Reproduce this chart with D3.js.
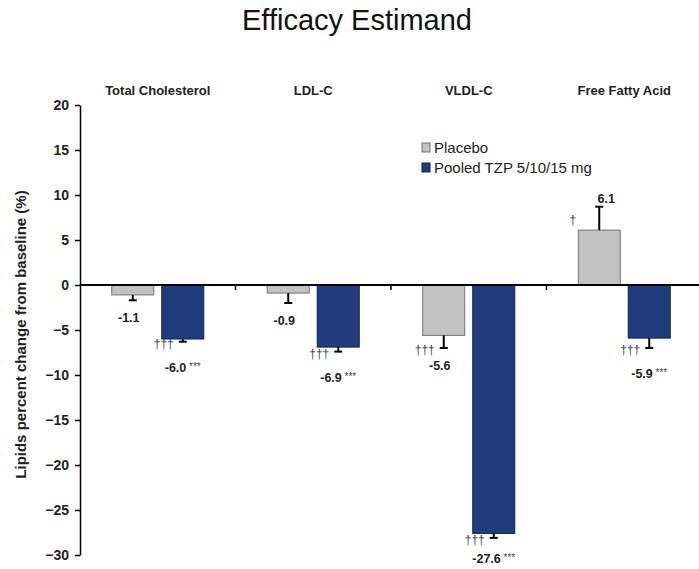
<!DOCTYPE html>
<html>
<head>
<meta charset="utf-8">
<script src="https://cdn.jsdelivr.net/npm/d3@7"></script>
<style>
  body { margin: 0; background: #fff; }
  svg { font-family: "Liberation Sans", Arial, sans-serif; }
  .axis path, .axis line { stroke: #000; stroke-width: 1.5; }
  .axis text { font-size: 14px; font-weight: bold; fill: #222; }
</style>
</head>
<body>
<div id="chart"></div>
<script>
const categories = ['Total Cholesterol', 'LDL-C', 'VLDL-C', 'Free Fatty Acid'];
const series = ['Placebo', 'Pooled TZP 5/10/15 mg'];
const placebo = [-1.1, -0.9, -5.6, 6.1];
const placeboErr = [0.6, 1.1, 1.4, 2.6];
const tzp = [-6.0, -6.9, -27.6, -5.9];
const tzpErr = [0.3, 0.5, 0.5, 1.1];
const placeboMarks = ['', '', '†††', '†'];
const tzpMarks = ['†††', '†††', '†††', '†††'];
const tzpStars = ['***', '***', '***', '***'];
const yTicks = [20, 15, 10, 5, 0, -5, -10, -15, -20, -25, -30];

const width = 699;
const height = 569;
const margin = { top: 105, right: -3, bottom: 14, left: 80 };

const colors = {
  Placebo: { fill: '#c2c2c2', stroke: '#737373' },
  'Pooled TZP 5/10/15 mg': { fill: '#1f3d7d', stroke: '#0c2150' },
};

const svg = d3.select('#chart').append('svg')
  .attr('width', width)
  .attr('height', height);

const x0 = d3.scaleBand()
  .domain(categories)
  .range([margin.left, width - margin.right])
  .padding(0);

const x1 = d3.scaleBand()
  .domain(series)
  .range([0, x0.bandwidth()])
  .paddingInner(0.16)
  .paddingOuter(0.635);

const y = d3.scaleLinear()
  .domain([-30, 20])
  .range([height - margin.bottom, margin.top]);

// rows: one per bar
const rows = [];
categories.forEach((c, i) => {
  rows.push({ cat: c, s: series[0], v: placebo[i], e: placeboErr[i], mark: placeboMarks[i], stars: '' });
  rows.push({ cat: c, s: series[1], v: tzp[i], e: tzpErr[i], mark: tzpMarks[i], stars: tzpStars[i] });
});
rows.forEach((d) => {
  d.cx = x0(d.cat) + x1(d.s) + x1.bandwidth() / 2;
  d.tip = d.v >= 0 ? d.v + d.e : d.v - d.e;
});

// title
svg.append('text')
  .attr('x', 357)
  .attr('y', 30)
  .attr('text-anchor', 'middle')
  .style('font-size', '29px')
  .style('fill', '#111')
  .text('Efficacy Estimand');

// category labels
svg.selectAll('.cat')
  .data(categories)
  .enter().append('text')
  .attr('class', 'cat')
  .attr('x', d => x0(d) + x0.bandwidth() / 2)
  .attr('y', 95)
  .attr('text-anchor', 'middle')
  .style('font-size', '13px')
  .style('font-weight', 'bold')
  .style('fill', '#222')
  .text(d => d);

// y axis
svg.append('g')
  .attr('class', 'axis')
  .attr('transform', `translate(${margin.left},0)`)
  .call(d3.axisLeft(y).tickValues(yTicks).tickSize(5).tickSizeOuter(0).tickPadding(6));

svg.append('text')
  .attr('transform', `translate(26,${y(-5.5)}) rotate(-90)`)
  .attr('text-anchor', 'middle')
  .style('font-size', '15px')
  .style('font-weight', 'bold')
  .style('fill', '#222')
  .text('Lipids percent change from baseline (%)');

// bars
svg.selectAll('.bar')
  .data(rows)
  .enter().append('rect')
  .attr('class', 'bar')
  .attr('x', d => x0(d.cat) + x1(d.s))
  .attr('width', x1.bandwidth())
  .attr('y', d => y(Math.max(0, d.v)))
  .attr('height', d => Math.abs(y(d.v) - y(0)))
  .attr('fill', d => colors[d.s].fill)
  .attr('stroke', d => colors[d.s].stroke)
  .attr('stroke-width', 1);

// error bars (one-sided)
const err = svg.selectAll('.err')
  .data(rows)
  .enter().append('g')
  .attr('class', 'err')
  .attr('stroke', '#000')
  .attr('stroke-width', 2);

err.append('line')
  .attr('x1', d => d.cx)
  .attr('x2', d => d.cx)
  .attr('y1', d => y(d.v))
  .attr('y2', d => y(d.tip));

err.append('line')
  .attr('x1', d => d.cx - 4)
  .attr('x2', d => d.cx + 4)
  .attr('y1', d => y(d.tip))
  .attr('y2', d => y(d.tip));

// zero line and category ticks
svg.append('line')
  .attr('x1', margin.left)
  .attr('x2', width)
  .attr('y1', y(0))
  .attr('y2', y(0))
  .attr('stroke', '#000')
  .attr('stroke-width', 2);

svg.selectAll('.ctick')
  .data(categories.slice(1))
  .enter().append('line')
  .attr('x1', d => x0(d))
  .attr('x2', d => x0(d))
  .attr('y1', y(0))
  .attr('y2', y(0) + 5)
  .attr('stroke', '#000')
  .attr('stroke-width', 1.5);

// value labels
const labels = svg.selectAll('.val')
  .data(rows)
  .enter().append('text')
  .attr('class', 'val')
  .attr('text-anchor', 'middle')
  .attr('x', (d) => {
    if (d.v >= 0) return d.cx + 7;
    return d.stars ? d.cx : d.cx - 4;
  })
  .attr('y', (d) => {
    if (d.v >= 0) return y(d.tip) - 4;
    return Math.min(y(d.tip) + (d.stars ? 30 : 22), height - 6);
  })
  .style('font-size', '12.5px')
  .style('font-weight', 'bold')
  .style('fill', '#222');

labels.append('tspan').text(d => d.v.toFixed(1));
labels.filter(d => d.stars).append('tspan')
  .attr('dy', -2)
  .style('font-size', '10px')
  .style('font-weight', 'normal')
  .style('fill', '#444')
  .text(d => ` ${d.stars}`);

// dagger marks
svg.selectAll('.mark')
  .data(rows.filter(d => d.mark))
  .enter().append('text')
  .attr('class', 'mark')
  .attr('text-anchor', 'end')
  .attr('x', d => (d.v >= 0 ? x0(d.cat) + x1(d.s) - 2 : d.cx - 9))
  .attr('y', d => (d.v >= 0 ? y(d.v) - 6 : y(d.tip) + 6))
  .style('font-size', '12px')
  .style('fill', '#444')
  .text(d => d.mark);

// legend
const legend = svg.selectAll('.legend')
  .data(series)
  .enter().append('g')
  .attr('class', 'legend')
  .attr('transform', (d, i) => `translate(422,${143 + i * 20})`);

legend.append('rect')
  .attr('width', 8)
  .attr('height', 9)
  .attr('fill', d => colors[d].fill)
  .attr('stroke', d => colors[d].stroke);

legend.append('text')
  .attr('x', 12)
  .attr('y', 10)
  .style('font-size', '15px')
  .style('fill', '#222')
  .text(d => d);
</script>
</body>
</html>
